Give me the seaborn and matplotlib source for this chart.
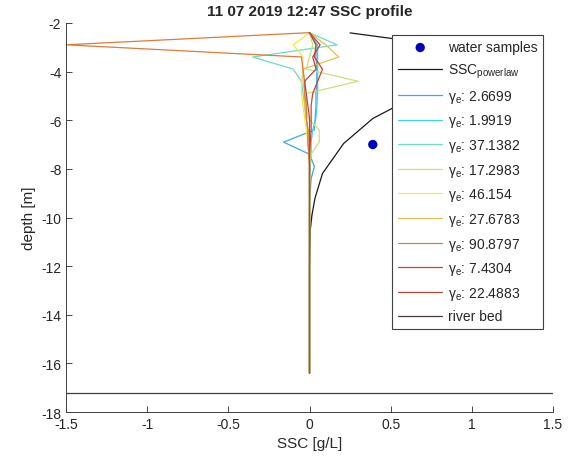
import numpy as np
import pandas as pd
import seaborn as sns
import matplotlib
matplotlib.use("Agg")
import matplotlib.pyplot as plt
from matplotlib import rcParams
from matplotlib.ticker import FuncFormatter

# ---- data ----
depth = [-2.4, -2.9, -3.4, -3.9, -4.4, -4.9, -5.4, -5.9, -6.4, -6.9, -7.4, -7.9,
         -8.4, -8.9, -9.4, -9.9, -10.4, -10.9, -11.4, -11.9, -12.4, -12.9, -13.4,
         -13.9, -14.4, -14.9, -15.4, -15.9, -16.4]

gamma_vals = ["2.6699", "1.9919", "37.1382", "17.2983", "46.154",
              "27.6783", "90.8797", "7.4304", "22.4883"]
gamma_colors = ["#3fa9e0", "#3fd2e6", "#6fdcc4", "#c6e27a", "#eee94a",
                "#e6bd55", "#e07a3c", "#d2402c", "#b04a3c"]

ssc_g1 = [0.0, 0.04, 0.04, 0.045, 0.045, 0.04, 0.04, 0.035, 0.03, -0.16, 0.0, 0.03,
          0.01, 0.005, 0.0, 0.0, 0.0, 0.0, 0.0, 0.0, 0.0, 0.0, 0.0, 0.0, 0.0, 0.0, 0.0, 0.0, 0.0]
ssc_g2 = [0.0, 0.05, 0.05, 0.05, 0.05, 0.05, 0.045, 0.04, 0.02, 0.01, 0.01, 0.005,
          0.0, 0.0, 0.0, 0.0, 0.0, 0.0, 0.0, 0.0, 0.0, 0.0, 0.0, 0.0, 0.0, 0.0, 0.0, 0.0, 0.0]
ssc_g3 = [0.0, 0.17, -0.35, -0.1, -0.05, -0.04, -0.03, -0.02, -0.01, 0.0, 0.0, 0.0,
          0.0, 0.0, 0.0, 0.0, 0.0, 0.0, 0.0, 0.0, 0.0, 0.0, 0.0, 0.0, 0.0, 0.0, 0.0, 0.0, 0.0]
ssc_g4 = [0.0, 0.02, 0.0, -0.02, 0.3, -0.02, -0.02, -0.01, 0.06, 0.06, 0.01, 0.0,
          0.0, 0.0, 0.0, 0.0, 0.0, 0.0, 0.0, 0.0, 0.0, 0.0, 0.0, 0.0, 0.0, 0.0, 0.0, 0.0, 0.0]
ssc_g5 = [0.0, -0.1, -0.04, -0.04, -0.05, -0.05, -0.04, -0.03, -0.02, -0.01, 0.0, 0.0,
          0.0, 0.0, 0.0, 0.0, 0.0, 0.0, 0.0, 0.0, 0.0, 0.0, 0.0, 0.0, 0.0, 0.0, 0.0, 0.0, 0.0]
ssc_g6 = [0.0, 0.1, 0.18, -0.04, -0.04, -0.03, -0.03, -0.02, -0.01, -0.01, 0.0, 0.0,
          0.0, 0.0, 0.0, 0.0, 0.0, 0.0, 0.0, 0.0, 0.0, 0.0, 0.0, 0.0, 0.0, 0.0, 0.0, 0.0, 0.0]
ssc_g7 = [0.0, -1.5, -0.05, -0.04, -0.03, -0.03, -0.02, -0.02, -0.01, -0.01, -0.005, 0.0,
          0.0, 0.0, 0.0, 0.0, 0.0, 0.0, 0.0, 0.0, 0.0, 0.0, 0.0, 0.0, 0.0, 0.0, 0.0, 0.0, 0.0]
ssc_g8 = [0.0, 0.04, 0.03, 0.08, 0.05, 0.02, 0.01, 0.01, 0.01, 0.005, 0.0, 0.0,
          0.0, 0.0, 0.0, 0.0, 0.0, 0.0, 0.0, 0.0, 0.0, 0.0, 0.0, 0.0, 0.0, 0.0, 0.0, 0.0, 0.0]
ssc_g9 = [0.0, 0.065, 0.02, 0.04, -0.03, -0.02, -0.01, 0.0, 0.0, 0.0, 0.0, 0.0,
          0.0, 0.0, 0.0, 0.0, 0.0, 0.0, 0.0, 0.0, 0.0, 0.0, 0.0, 0.0, 0.0, 0.0, 0.0, 0.0, 0.0]
gamma_series = [ssc_g1, ssc_g2, ssc_g3, ssc_g4, ssc_g5, ssc_g6, ssc_g7, ssc_g8, ssc_g9]

pl_ssc = [0.25, 0.53, 0.75, 0.95, 1.1, 1.05, 0.9, 0.7, 0.53, 0.39, 0.21, 0.08, 0.034,
          0.015, 0.005, 0.0, 0.0]
pl_depth = [-2.41, -2.66, -2.78, -2.95, -3.3, -3.7, -4.3, -4.9, -5.44, -5.93, -6.96,
            -8.19, -9.2, -9.9, -10.5, -12.0, -16.4]

sample_ssc = [0.39]
sample_depth = [-7.0]
river_bed = -17.2

# ---- style ----
sns.set_style("ticks")
rcParams["font.family"] = ["Liberation Sans", "DejaVu Sans"]
rcParams["mathtext.fontset"] = "custom"
rcParams["mathtext.rm"] = "Liberation Sans"
rcParams["mathtext.it"] = "Liberation Sans:italic"
rcParams["axes.unicode_minus"] = False
rcParams["xtick.direction"] = "in"
rcParams["ytick.direction"] = "in"

fig = plt.figure(figsize=(5.7, 4.6), dpi=100)
ax = fig.add_axes([0.116, 0.102, 0.854, 0.846])

sns.scatterplot(x=sample_ssc, y=sample_depth, ax=ax, color="#0000c0", s=45,
                edgecolor="none", label="water samples", zorder=5)
sns.lineplot(x=pl_ssc, y=pl_depth, ax=ax, sort=False, estimator=None,
             color="#1a1a1a", lw=0.9, label="SSC$_{\\mathrm{powerlaw}}$")
for vals, g, c in zip(gamma_series, gamma_vals, gamma_colors):
    sns.lineplot(x=vals, y=depth, ax=ax, sort=False, estimator=None,
                 color=c, lw=0.9, label="γ$_{\\mathrm{e}}$: " + g)
ax.axhline(river_bed, color="#4d3b3b", lw=0.9, label="river bed")

ax.set_xlim(-1.5, 1.5)
ax.set_ylim(-18, -2)
ax.set_xticks(np.arange(-1.5, 1.51, 0.5))
ax.set_yticks(np.arange(-18, -1.9, 2))
fmt = FuncFormatter(lambda v, p: f"{v:g}")
ax.xaxis.set_major_formatter(fmt)
ax.yaxis.set_major_formatter(fmt)
ax.tick_params(labelsize=10, colors="#262626", length=4, width=0.6)
for s in ["top", "right"]:
    ax.spines[s].set_visible(False)
for s in ["left", "bottom"]:
    ax.spines[s].set_color("#404040")
    ax.spines[s].set_linewidth(0.7)

ax.set_xlabel("SSC [g/L]", fontsize=11, color="#262626")
ax.set_ylabel("depth [m]", fontsize=11, color="#262626")
ax.set_title("11 07 2019 12:47 SSC profile", fontsize=11, fontweight="bold", pad=6)

leg = ax.legend(loc="upper right", bbox_to_anchor=(0.98, 0.97), fontsize=10,
                frameon=True, fancybox=False, framealpha=1, edgecolor="#404040",
                handlelength=3.2, handletextpad=0.4, labelspacing=0.55,
                borderpad=0.4, borderaxespad=0)
leg.get_frame().set_linewidth(0.8)
leg.set_zorder(10)

fig.savefig("out.png", dpi=100)
